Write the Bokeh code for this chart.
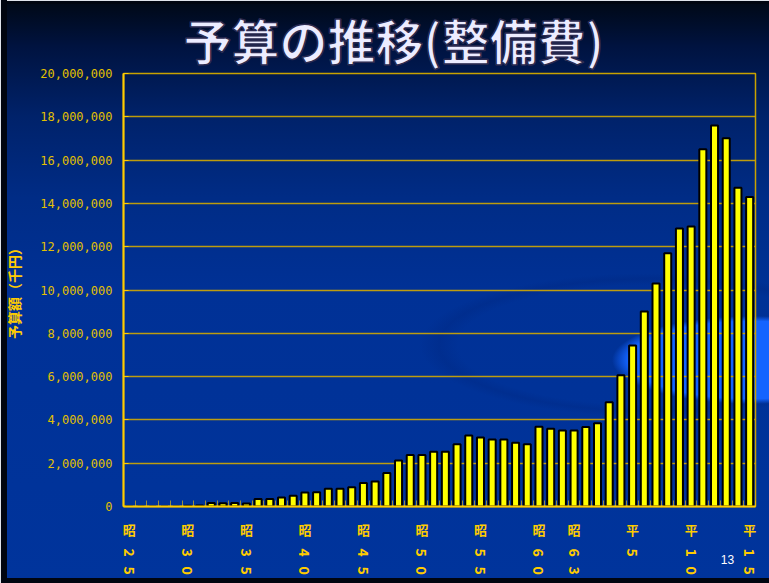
from math import pi
from bokeh.plotting import figure
from bokeh.models import (ColumnDataSource, FixedTicker, NumeralTickFormatter,
                          LinearAxis, Range1d, Title)
from bokeh.embed import file_html
from bokeh.resources import INLINE

# ---------------- data ----------------
years = ["昭25", "昭26", "昭27", "昭28", "昭29", "昭30", "昭31", "昭32", "昭33", "昭34",
         "昭35", "昭36", "昭37", "昭38", "昭39", "昭40", "昭41", "昭42", "昭43", "昭44",
         "昭45", "昭46", "昭47", "昭48", "昭49", "昭50", "昭51", "昭52", "昭53", "昭54",
         "昭55", "昭56", "昭57", "昭58", "昭59", "昭60", "昭61", "昭62", "昭63",
         "平1", "平2", "平3", "平4", "平5", "平6", "平7", "平8", "平9", "平10",
         "平11", "平12", "平13", "平14", "平15"]

# 予算額（千円）
budget = [0, 0, 0, 0, 0, 40000, 50000, 160000, 150000, 160000,
          140000, 350000, 350000, 420000, 500000, 650000, 660000, 820000, 820000, 890000,
          1080000, 1150000, 1550000, 2120000, 2380000, 2380000, 2530000, 2530000, 2870000, 3280000,
          3190000, 3100000, 3100000, 2950000, 2870000, 3680000, 3590000, 3510000, 3510000,
          3670000, 3850000, 4810000, 6060000, 7440000, 9010000, 10300000, 11700000, 12840000, 12930000,
          16500000, 17600000, 17010000, 14720000, 14300000]

tick_labels = ["昭25", "昭30", "昭35", "昭40", "昭45", "昭50", "昭55",
               "昭60", "昭63", "平5", "平10", "平15"]

title_text = "予算の推移(整備費)"
y_label = "予算額（千円）"
page_number = "13"

# ---------------- figure ----------------
n = len(years)
xs = list(range(n))

p = figure(width=769, height=583, title=title_text,
           x_range=Range1d(-0.5, n - 0.5), y_range=Range1d(0, 20000000),
           output_backend="svg", toolbar_location=None,
           min_border_left=123, min_border_right=14,
           min_border_top=73, min_border_bottom=77)

p.title.text_font = "Noto Sans CJK JP"
p.title.text_font_style = "bold"
p.title.text_font_size = "48px"
p.title.text_color = "#ececff"
p.title.align = "left"
p.title.offset = 60
p.title.standoff = 0
if "text_outline_color" in Title.properties():
    p.title.text_outline_color = "#2a2a50"

p.background_fill_color = None
p.border_fill_color = None
p.outline_line_color = "#c9a200"
p.outline_line_width = 1.5

p.styles = {
    "background":
        "linear-gradient(to right, #dfe3ea 0px, #dfe3ea 1px, #000510 1px, #000510 7px, transparent 7px),"
        "linear-gradient(to bottom, #dfe3ea 0px, #dfe3ea 1px, #000510 1px, #000510 4px, transparent 4px),"
        "linear-gradient(to top, #000510 0px, #000510 5px, transparent 5px),"
        "radial-gradient(ellipse 140px 44px at 752px 360px, rgba(20,100,255,1) 0%, rgba(20,100,255,1) 88%, rgba(20,100,255,0) 100%),"
        "radial-gradient(ellipse 240px 75px at 650px 345px, rgba(0,30,110,0) 80%, rgba(0,30,110,0.2) 88%, rgba(0,30,110,0) 96%),"
        "linear-gradient(to bottom, #000814 0%, #001340 8%, #00226a 20%, #002c86 34%, #003196 50%, #00349c 100%)"
}

src = ColumnDataSource(data=dict(x=xs, year=years, v=budget))
p.vbar(x="x", top="v", width=0.6, source=src,
       fill_color="#ffff00", line_color="#000000", line_width=2)

# grid
p.xgrid.grid_line_color = None
p.ygrid.grid_line_color = "#d2a800"
p.ygrid.grid_line_width = 1.5
p.ygrid.grid_line_alpha = 0.9
p.ygrid.ticker = FixedTicker(ticks=list(range(0, 20000001, 2000000)))

# y axis
yax = p.yaxis[0]
yax.ticker = FixedTicker(ticks=list(range(0, 20000001, 2000000)))
yax.formatter = NumeralTickFormatter(format="0,0")
yax.axis_line_color = "#ffcc00"
yax.axis_line_width = 2
yax.major_tick_in = 5
yax.major_tick_out = 0
yax.major_tick_line_color = "#ffcc00"
yax.minor_tick_line_color = None
yax.major_label_text_color = "#e3c000"
yax.major_label_text_font = "DejaVu Sans Mono"
yax.major_label_text_font_size = "12px"
yax.major_label_standoff = 11
yax.axis_label = y_label
yax.axis_label_text_color = "#ffcc00"
yax.axis_label_text_font = "Noto Sans CJK JP"
yax.axis_label_text_font_style = "bold"
yax.axis_label_text_font_size = "14px"
yax.axis_label_standoff = 13

# vertical category labels: era character upright, digits rotated
era_ticks, era_over, d1_ticks, d1_over, d2_ticks, d2_over = [], {}, [], {}, [], {}
for lab in tick_labels:
    i = years.index(lab)
    era_ticks.append(i); era_over[i] = lab[0]
    digits = lab[1:]
    d1_ticks.append(i); d1_over[i] = digits[0]
    if len(digits) > 1:
        d2_ticks.append(i); d2_over[i] = digits[1]

label_style = dict(major_label_text_color="#ffcc00", major_label_text_font="Noto Sans CJK JP",
                   major_label_text_font_style="bold", major_label_text_font_size="13px")
digit_style = dict(label_style, major_label_text_font_size="14px")

# main x axis: tick marks between categories (minor), era characters as labels
xax = p.xaxis[0]
xax.ticker = FixedTicker(ticks=era_ticks, minor_ticks=[i - 0.5 for i in range(n + 1)])
xax.major_label_overrides = era_over
xax.axis_line_color = "#ffcc00"
xax.axis_line_width = 2
xax.major_tick_line_color = None
xax.major_tick_in = 0
xax.major_tick_out = 0
xax.minor_tick_in = 6
xax.minor_tick_out = 0
xax.minor_tick_line_color = "#ffcc00"
xax.minor_tick_line_alpha = 0.6
xax.major_label_standoff = 13
for k, v in label_style.items():
    setattr(xax, k, v)


def label_axis(ticks, overrides, standoff, orientation, **style):
    ax = LinearAxis(ticker=FixedTicker(ticks=ticks), major_label_overrides=overrides,
                    axis_line_color=None, major_tick_line_color=None,
                    minor_tick_line_color=None, major_tick_in=0, major_tick_out=0,
                    major_label_standoff=standoff, major_label_orientation=orientation,
                    **style)
    p.add_layout(ax, "below")
    return ax


label_axis(d1_ticks, d1_over, 7, -pi / 2, **digit_style)
pn_x = 51.1
label_axis([pn_x], {pn_x: page_number}, -5, "horizontal",
           major_label_text_color="#ffffff", major_label_text_font="Liberation Sans",
           major_label_text_font_size="12px")
label_axis(d2_ticks, d2_over, 0, -pi / 2, **digit_style)

open("out.html", "w").write(file_html(p, INLINE))
